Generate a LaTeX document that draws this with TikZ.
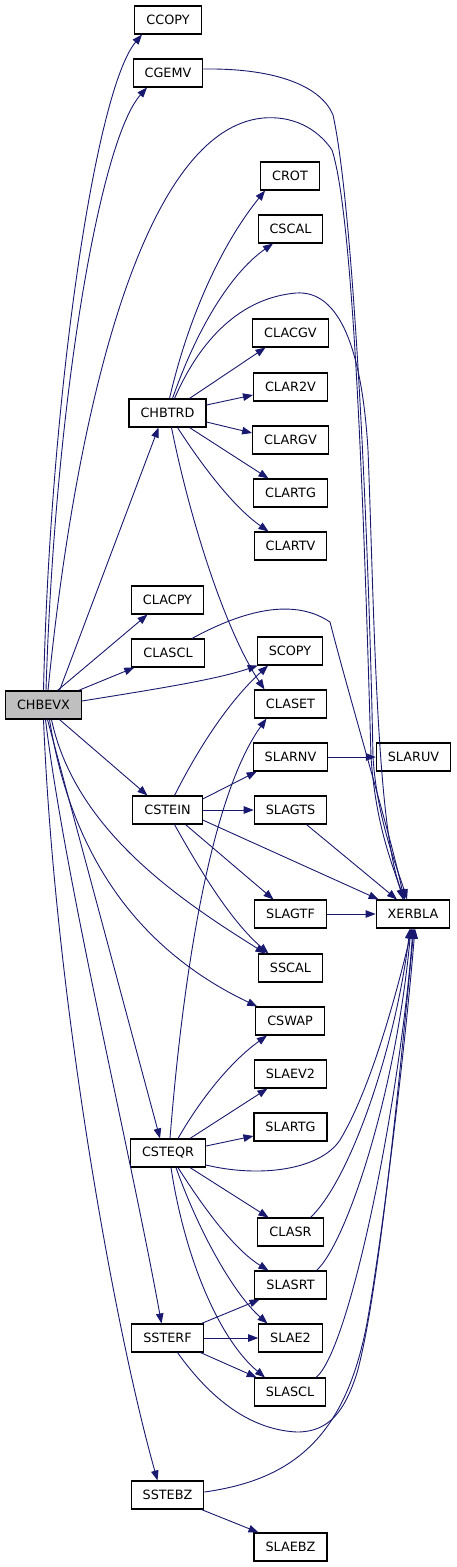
\documentclass[tikz,border=0pt]{standalone}
\usepackage{fontspec}
\setmainfont{DejaVu Sans}
\usetikzlibrary{arrows.meta}
\definecolor{edgeblue}{HTML}{191970}
\definecolor{rootgray}{HTML}{BFBFBF}
\begin{document}
\begin{tikzpicture}[x=1pt,y=-1pt,
  box/.style={draw=black, line width=1.1pt, fill=white, minimum height=28pt,
    inner xsep=11.5pt, inner ysep=0pt, font=\fontsize{12.8}{14}\selectfont},
  rootbox/.style={box, fill=rootgray},
  call/.style={draw=edgeblue, line width=0.9pt, -{Triangle[length=10pt,width=7.5pt]}}]
\useasboundingbox (0,0) rectangle (456,1567);
\fill[white] (0,0) rectangle (456,1567);

% nodes
\node[box] (CCOPY) at (168,20) {CCOPY};
\node[box] (CGEMV) at (168,73) {CGEMV};
\node[box] (CROT) at (290,176) {CROT};
\node[box] (CSCAL) at (290.5,229) {CSCAL};
\node[box] (CLACGV) at (290.5,333) {CLACGV};
\node[box] (CLAR2V) at (290.5,387) {CLAR2V};
\node[box] (CHBTRD) at (167.5,413) {CHBTRD};
\node[box] (CLARGV) at (290.5,440) {CLARGV};
\node[box] (CLARTG) at (290.5,493) {CLARTG};
\node[box] (CLARTV) at (290.5,546) {CLARTV};
\node[box] (CLACPY) at (167.5,600) {CLACPY};
\node[box] (CLASCL) at (168,653) {CLASCL};
\node[box] (SCOPY) at (290,651) {SCOPY};
\node[box] (CLASET) at (290.5,704) {CLASET};
\node[rootbox] (CHBEVX) at (43.5,705) {CHBEVX};
\node[box] (SLARNV) at (290.5,757) {SLARNV};
\node[box] (SLARUV) at (413.5,757) {SLARUV};
\node[box] (CSTEIN) at (167.5,810) {CSTEIN};
\node[box] (SLAGTS) at (290.5,810) {SLAGTS};
\node[box] (SLAGTF) at (290.5,914) {SLAGTF};
\node[box] (XERBLA) at (413,914) {XERBLA};
\node[box] (SSCAL) at (290.5,968) {SSCAL};
\node[box] (CSWAP) at (290,1021) {CSWAP};
\node[box] (SLAEV2) at (290.5,1074) {SLAEV2};
\node[box] (SLARTG) at (290.5,1127) {SLARTG};
\node[box] (CSTEQR) at (168,1153) {CSTEQR};
\node[box] (CLASR) at (290.5,1232) {CLASR};
\node[box] (SLASRT) at (290.5,1285) {SLASRT};
\node[box] (SSTERF) at (167.5,1338) {SSTERF};
\node[box] (SLAE2) at (290.5,1338) {SLAE2};
\node[box] (SLASCL) at (290,1392) {SLASCL};
\node[box] (SSTEBZ) at (167.5,1495) {SSTEBZ};
\node[box] (SLAEBZ) at (290.5,1547) {SLAEBZ};

% CHBEVX calls
\draw[call] (CHBEVX.north) .. controls (50,400) and (95,90) .. ([xshift=-26pt]CCOPY.south);
\draw[call] ([xshift=2.5pt]CHBEVX.north) .. controls (55,400) and (100,140) .. ([xshift=-21pt]CGEMV.south);
\draw[call] ([xshift=4.5pt]CHBEVX.north) .. controls (75,420) and (140,130) .. (263,118)
  .. controls (300,115) and (322,135) .. (332,150)
  .. controls (355,220) and (365,550) .. (371,757)
  .. controls (376,830) and (395,870) .. ([xshift=-10pt]XERBLA.north);
\draw[call] ([xshift=16pt]CHBEVX.north) -- ([xshift=-9pt]CHBTRD.south);
\draw[call] ([xshift=14pt]CHBEVX.north) -- ([xshift=-20pt]CLACPY.south);
\draw[call] ([xshift=35pt]CHBEVX.north) -- ([xshift=3pt]CLASCL.south west);
\draw[call] ([yshift=4pt]CHBEVX.east) .. controls (150,690) and (215,680) .. ([xshift=1pt]SCOPY.south west);
\draw[call] ([xshift=16pt]CHBEVX.south) -- ([xshift=-20pt]CSTEIN.north);
\draw[call] ([xshift=8pt]CHBEVX.south) .. controls (75,830) and (180,900) .. ([xshift=-25pt]SSCAL.north);
\draw[call] ([xshift=6pt]CHBEVX.south) .. controls (75,880) and (160,960) .. ([xshift=2pt]CSWAP.north west);
\draw[call] ([xshift=4pt]CHBEVX.south) -- ([xshift=-8pt]CSTEQR.north);
\draw[call] ([xshift=2pt]CHBEVX.south) .. controls (65,880) and (130,1150) .. ([xshift=-6pt]SSTERF.north);
\draw[call] (CHBEVX.south) .. controls (55,1000) and (115,1330) .. ([xshift=-10pt]SSTEBZ.north);

% CGEMV
\draw[call] ([yshift=4pt]CGEMV.east) .. controls (280,68) and (322,88) .. (333,115)
  .. controls (352,200) and (368,500) .. (373,757)
  .. controls (377,820) and (398,870) .. ([xshift=-6pt]XERBLA.north);

% CHBTRD calls
\draw[call] ([xshift=2pt]CHBTRD.north) .. controls (190,310) and (225,240) .. ([xshift=5pt]CROT.south west);
\draw[call] ([xshift=5pt]CHBTRD.north) .. controls (200,320) and (235,270) .. ([xshift=-17.5pt]CSCAL.south);
\draw[call] ([xshift=7pt]CHBTRD.north) .. controls (200,340) and (240,298) .. (296,293)
  .. controls (340,290) and (362,350) .. (368,450)
  .. controls (374,600) and (376,830) .. ([xshift=-8pt]XERBLA.north);
\draw[call] ([xshift=22pt]CHBTRD.north) -- ([xshift=-25pt]CLACGV.south);
\draw[call] ([yshift=8pt]CHBTRD.east) -- ([yshift=-8pt]CLAR2V.west);
\draw[call] ([yshift=-9pt]CHBTRD.east) -- ([yshift=7pt]CLARGV.west);
\draw[call] ([xshift=22pt]CHBTRD.south) -- ([xshift=-22pt]CLARTG.north);
\draw[call] ([xshift=10pt]CHBTRD.south) .. controls (205,470) and (235,508) .. ([xshift=-22pt]CLARTV.north);
\draw[call] ([xshift=4pt]CHBTRD.south) .. controls (190,520) and (225,630) .. ([xshift=-26pt]CLASET.north);

% CLASCL
\draw[call] ([xshift=24pt]CLASCL.north) .. controls (235,615) and (290,595) .. (330,622)
  .. controls (350,700) and (392,840) .. ([xshift=-9pt]XERBLA.north);

% CSTEIN calls
\draw[call] ([xshift=7pt]CSTEIN.north) .. controls (195,755) and (225,705) .. ([xshift=-22pt]SCOPY.south);
\draw[call] ([yshift=11pt]CSTEIN.east) -- ([xshift=4pt]SLARNV.south west);
\draw[call] (CSTEIN.east) -- (SLAGTS.west);
\draw[call] ([yshift=-10pt]CSTEIN.east) -- ([xshift=3pt]XERBLA.north west);
\draw[call] ([xshift=18pt]CSTEIN.south) -- ([xshift=-17pt]SLAGTF.north);
\draw[call] ([xshift=7pt]CSTEIN.south) .. controls (200,870) and (230,920) .. ([xshift=-22pt]SSCAL.north);

\draw[call] (SLARNV.east) -- (SLARUV.west);
\draw[call] ([xshift=16pt]SLAGTS.south) -- ([xshift=-16pt]XERBLA.north);
\draw[call] (SLAGTF.east) -- (XERBLA.west);

% CSTEQR calls
\draw[call] ([xshift=2pt]CSTEQR.north) .. controls (185,950) and (215,790) .. ([xshift=-24pt]CLASET.south);
\draw[call] ([xshift=10pt]CSTEQR.north) .. controls (200,1100) and (230,1062) .. ([xshift=-23pt]CSWAP.south);
\draw[call] ([xshift=22pt]CSTEQR.north) -- ([xshift=-23pt]SLAEV2.south);
\draw[call] ([yshift=7pt]CSTEQR.east) -- ([yshift=-9pt]SLARTG.west);
\draw[call] ([yshift=-12pt]CSTEQR.east) .. controls (260,1178) and (320,1170) .. (340,1140)
  .. controls (370,1090) and (395,1000) .. ([xshift=-1pt]XERBLA.south);
\draw[call] ([xshift=22pt]CSTEQR.south) -- ([xshift=-22pt]CLASR.north);
\draw[call] ([xshift=10pt]CSTEQR.south) .. controls (205,1210) and (235,1250) .. ([xshift=-22pt]SLASRT.north);
\draw[call] ([xshift=8pt]CSTEQR.south) .. controls (200,1235) and (235,1295) .. ([xshift=-23pt]SLAE2.north);
\draw[call] ([xshift=3pt]CSTEQR.south) .. controls (185,1260) and (220,1340) .. ([xshift=-25pt]SLASCL.north);

% lower level to XERBLA
\draw[call] ([xshift=20pt]CLASR.north) .. controls (350,1180) and (395,1050) .. ([xshift=-3pt]XERBLA.south);
\draw[call] ([xshift=26pt]SLASRT.north) .. controls (345,1245) and (395,1100) .. ([xshift=-2pt]XERBLA.south);
\draw[call] ([xshift=26pt]SLASCL.north) .. controls (350,1350) and (400,1100) .. (XERBLA.south);

% SSTERF calls
\draw[call] ([xshift=34pt]SSTERF.north) -- ([xshift=-31pt]SLASRT.south);
\draw[call] (SSTERF.east) -- (SLAE2.west);
\draw[call] ([xshift=33pt]SSTERF.south) -- ([xshift=3pt]SLASCL.north west);
\draw[call] ([xshift=10pt]SSTERF.south) .. controls (215,1405) and (255,1430) .. (297,1432)
  .. controls (330,1432) and (345,1410) .. (357,1373)
  .. controls (380,1290) and (402,1050) .. ([xshift=1pt]XERBLA.south);

% SSTEBZ calls
\draw[call] ([xshift=34pt]SSTEBZ.south) -- ([xshift=-32pt]SLAEBZ.north);
\draw[call] ([yshift=3pt]SSTEBZ.east) .. controls (290,1480) and (345,1440) .. (367,1323)
  .. controls (382,1240) and (405,1050) .. ([xshift=2pt]XERBLA.south);
\end{tikzpicture}
\end{document}
